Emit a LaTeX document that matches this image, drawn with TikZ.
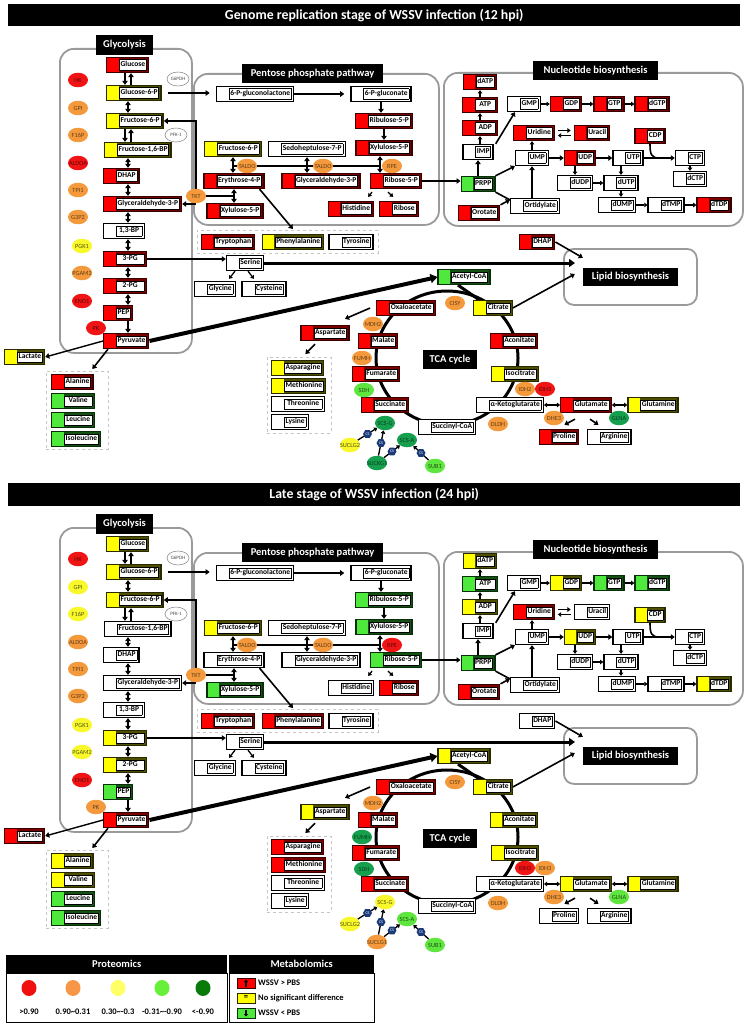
\documentclass[tikz,border=0pt]{standalone}
\usepackage{fontspec}
\setmainfont{Carlito}
\usetikzlibrary{arrows.meta,shapes.geometric,calc}
\pgfdeclarelayer{back}
\pgfdeclarelayer{bg}
\pgfsetlayers{back,bg,main}

\definecolor{mred}{HTML}{FF0000}
\definecolor{mredS}{HTML}{7A0000}
\definecolor{mredB}{HTML}{3A0000}
\definecolor{myel}{HTML}{FFFF00}
\definecolor{myelS}{HTML}{4F4F00}
\definecolor{myelB}{HTML}{2A2A00}
\definecolor{mgrn}{HTML}{4FE83C}
\definecolor{mgrnS}{HTML}{145214}
\definecolor{mgrnB}{HTML}{0A2E0A}
\definecolor{ecR}{HTML}{F01414}
\definecolor{ecO}{HTML}{F59A3C}
\definecolor{ecY}{HTML}{F8F82A}
\definecolor{ecG}{HTML}{5EE63E}
\definecolor{ecD}{HTML}{16A04E}
\definecolor{csb}{HTML}{1B3A7A}
\definecolor{regc}{HTML}{9A9A9A}
\definecolor{lgR}{HTML}{F01010}
\definecolor{lgO}{HTML}{F79646}
\definecolor{lgY}{HTML}{FFFF66}
\definecolor{lgG}{HTML}{66F03A}
\definecolor{lgD}{HTML}{0A7A0A}

\newcommand\metfont{\bfseries\fontsize{7.5}{8}\selectfont}
\newcommand\enzfont{\fontsize{6.3}{7}\selectfont}
\newcommand\secfont{\bfseries\fontsize{10.5}{12}\selectfont}
\newcommand\titlefont{\bfseries\fontsize{13.8}{16}\selectfont}
\newcommand\legfont{\bfseries\fontsize{8.5}{10}\selectfont}
\newcommand\lbl[1]{\hspace*{12.5pt}{\setlength\fboxsep{0.9pt}\setlength\fboxrule{0.6pt}\fcolorbox{black}{white}{\strut#1}}\hspace*{2pt}}

\tikzset{
  mbase/.style={rectangle, inner sep=0pt, minimum height=15pt, line width=1.3pt, font=\metfont},
  mcol/.style n args={3}{fill=#2, draw=#3, path picture={\fill[#1] (path picture bounding box.south west) rectangle ([xshift=12pt]path picture bounding box.north west);}},
  metR/.style={mbase, mcol={mred}{mredS}{mredB}},
  metY/.style={mbase, mcol={myel}{myelS}{myelB}},
  metG/.style={mbase, mcol={mgrn}{mgrnS}{mgrnB}},
  metW/.style={mbase, fill=white, draw=black},
  enzb/.style={ellipse, inner sep=0pt, minimum width=20pt, minimum height=14.5pt, font=\enzfont},
  enzR/.style={enzb, fill=ecR, text=ecR!40!black},
  enzO/.style={enzb, fill=ecO, text=ecO!40!black},
  enzY/.style={enzb, fill=ecY, text=ecY!35!black},
  enzG/.style={enzb, fill=ecG, text=ecG!35!black},
  enzD/.style={enzb, fill=ecD, text=ecD!40!black},
  enzW/.style={enzb, fill=white, draw=gray, line width=0.5pt, text=gray!60!black, minimum width=22pt, minimum height=14pt, font=\fontsize{5}{6}\selectfont},
  cshex/.style={regular polygon, regular polygon sides=6, fill=csb, inner sep=0pt, minimum size=9pt, text=white, font=\fontsize{4}{4}\selectfont},
  sec/.style={fill=black, text=white, font=\secfont, inner sep=0pt},
  region/.style={draw=regc, line width=1.8pt, rounded corners=14pt, inner sep=0pt, anchor=north west},
  dbox/.style={draw=gray!45, dashed, line width=0.8pt, inner sep=0pt, anchor=north west},
  arr/.style={line width=1.6pt, -{Triangle[length=4pt,width=5.5pt]}},
  darr/.style={line width=1.6pt, {Triangle[length=4pt,width=5.5pt]}-{Triangle[length=4pt,width=5.5pt]}},
  sarr/.style={line width=1.3pt, -{Triangle[length=3.2pt,width=4.5pt]}},
  sdarr/.style={line width=1.3pt, {Triangle[length=3.2pt,width=4.5pt]}-{Triangle[length=3.2pt,width=4.5pt]}},
  ln/.style={line width=1.6pt},
  bigarr/.style={line width=4pt, -{Triangle[length=7pt,width=9pt]}},
  medarr/.style={line width=3pt, -{Triangle[length=6pt,width=8pt]}},
  cyc/.style={line width=3pt},
}

\newcommand\statuses[1]{\foreach \mn/\ms in {#1}{\expandafter\xdef\csname S@\mn\endcsname{\ms}}}
\newcommand\estatuses[1]{\foreach \mn/\ms in {#1}{\expandafter\xdef\csname E@\mn\endcsname{\ms}}}
\newcommand\metab[4]{\edef\cur{\csname S@#1\endcsname}\expandafter\metaux\expandafter{\cur}{#1}{#2}{#3}{#4}}
\newcommand\metaux[5]{\node[met#1,#3] (#2) at (#4) {\lbl{#5}};}
\newcommand\enzy[3]{\edef\cur{\csname E@#1\endcsname}\expandafter\enzaux\expandafter{\cur}{#1}{#2}{#3}}
\newcommand\enzaux[4]{\node[enz#1] (#2) at (#3) {\makebox[0pt]{#4}};}

\newcommand\half{%
\begin{pgfonlayer}{back}
\node[region, minimum width=132pt, minimum height=304pt] (glycbox) at (59,48) {};
\node[region, minimum width=245pt, minimum height=151pt] (pppbox) at (193,73) {};
\node[region, minimum width=299pt, minimum height=153pt] (nucbox) at (443,72) {};
\node[region, rounded corners=10pt, minimum width=133pt, minimum height=56pt] (lipbox) at (563,248) {};
\node[dbox, minimum width=62pt, minimum height=78pt] (aa1) at (46,371) {};
\node[dbox, minimum width=181pt, minimum height=23pt] (arom) at (197,230) {};
\node[dbox, minimum width=64pt, minimum height=76pt] (aa2) at (267,357) {};
\draw[cyc] (447,358) ellipse [x radius=71pt, y radius=67pt];
\end{pgfonlayer}
\coordinate (axL) at (125,0);
\coordinate (ax) at (128,0);
\coordinate (axR) at (131,0);
\node[sec, minimum width=57pt, minimum height=20pt] (lglyc) at (124.5,45) {Glycolysis};
\node[sec, minimum width=141pt, minimum height=19pt] (lppp) at (312.5,73.5) {Pentose phosphate pathway};
\node[sec, minimum width=125pt, minimum height=19pt] (lnuc) at (595.5,70.5) {Nucleotide biosynthesis};
\node[sec, minimum width=95pt, minimum height=18pt] (liplab) at (630.5,277) {Lipid biosynthesis};
\node[sec, minimum width=54pt, minimum height=19pt] (ltca) at (450,359.5) {TCA cycle};
% glycolysis
\metab{glc}{anchor=west}{106,65}{Glucose}
\metab{g6p}{anchor=west}{106,93}{Glucose-6-P}
\metab{f6p}{anchor=west}{106,121}{Fructose-6-P}
\metab{f16bp}{anchor=west}{104,150}{Fructose-1,6-BP}
\metab{dhap}{anchor=west}{103,176}{DHAP}
\metab{ga3p}{anchor=west}{103,204}{Glyceraldehyde-3-P}
\metab{bpg}{anchor=west}{103,231}{\makebox[23pt]{1,3-BP}}
\metab{pg3}{anchor=west}{103,259}{\makebox[25pt]{3-PG}}
\metab{pg2}{anchor=west}{103,286}{\makebox[25pt]{2-PG}}
\metab{pep}{anchor=west}{103,313}{PEP}
\metab{pyr}{anchor=west}{103,341}{Pyruvate}
\metab{lac}{anchor=west}{4,357}{Lactate}
\metab{ala}{anchor=west}{51,382}{Alanine}
\metab{val}{anchor=west}{51,401}{\makebox[25pt]{Valine}}
\metab{leu}{anchor=west}{51,420}{\makebox[25pt]{Leucine}}
\metab{ile}{anchor=west}{51,439}{Isoleucine}
% pentose phosphate
\metab{gl}{}{255,94}{6-P-gluconolactone}
\metab{gn}{}{381,94}{6-P-gluconate}
\metab{ru5p}{}{384,121}{Ribulose-5-P}
\metab{x5pu}{}{384,148}{Xylulose-5-P}
\metab{f6pp}{}{233,149}{Fructose-6-P}
\metab{sedo}{}{307,149}{Sedoheptulose-7-P}
\metab{e4p}{}{234,181}{Erythrose-4-P}
\metab{ga3pp}{}{321,181}{Glyceraldehyde-3-P}
\metab{r5p}{}{396,181}{Ribose-5-P}
\metab{x5pl}{}{235,211}{Xylulose-5-P}
\metab{his}{}{351,209}{Histidine}
\metab{rib}{}{399,209}{Ribose}
\metab{trp}{}{228,242}{Tryptophan}
\metab{phe}{}{293,242}{Phenylalanine}
\metab{tyr}{}{351,242}{Tyrosine}
\metab{ser}{}{245,263}{Serine}
\metab{gly}{}{215,289}{Glycine}
\metab{cys}{}{264,289}{Cysteine}
% nucleotides
\metab{datp}{}{480,82}{dATP}
\metab{atp}{}{480,105}{\makebox[17pt]{ATP}}
\metab{adp}{}{480,128}{\makebox[17pt]{ADP}}
\metab{imp}{}{478,152}{IMP}
\metab{prpp}{}{478,184}{PRPP}
\metab{oro}{}{479,213}{Orotate}
\metab{ort}{}{535,206}{Ortidylate}
\metab{gmp}{}{524,104}{GMP}
\metab{gdp}{}{566,104}{GDP}
\metab{gtp}{}{609,104}{GTP}
\metab{dgtp}{}{652,104}{dGTP}
\metab{urd}{}{534,133}{Uridine}
\metab{ura}{}{592,133}{Uracil}
\metab{ump}{}{532,158}{UMP}
\metab{udp}{}{580,158}{UDP}
\metab{utp}{}{628,158}{UTP}
\metab{cdp}{}{650,136}{CDP}
\metab{ctp}{}{690,158}{CTP}
\metab{dctp}{}{690,179}{dCTP}
\metab{dudp}{}{575,183}{dUDP}
\metab{dutp}{}{621,183}{dUTP}
\metab{dump}{}{617,205}{dUMP}
\metab{dtmp}{}{666,205}{dTMP}
\metab{dtdp}{}{714,205}{dTDP}
\metab{dhapr}{}{537,242}{DHAP}
% TCA
\metab{acoa}{}{464,277}{Acetyl-CoA}
\metab{cit}{}{493,308}{Citrate}
\metab{oaa}{}{406,308}{Oxaloacetate}
\metab{asp}{}{325,333}{Aspartate}
\metab{mal}{}{378,341}{Malate}
\metab{fum}{}{376,374}{Fumarate}
\metab{suc}{}{385,405}{Succinate}
\metab{scoa}{}{447,427}{Succinyl-CoA}
\metab{akg}{}{510,405}{α-Ketoglutarate}
\metab{icit}{}{515,374}{Isocitrate}
\metab{acon}{}{514,341}{Aconitate}
\metab{glu}{}{586,405}{Glutamate}
\metab{gln}{}{653,405}{Glutamine}
\metab{pro}{}{559,437}{Proline}
\metab{arg}{}{609,437}{Arginine}
\metab{asn}{anchor=west}{271,368}{Asparagine}
\metab{met}{anchor=west}{271,386}{Methionine}
\metab{thr}{anchor=west}{271,404}{\makebox[35pt]{Threonine}}
\metab{lys}{anchor=west}{271,422}{Lysine}
% enzymes
\enzy{hk}{78,80}{HK}
\enzy{gpi}{78,108}{GPI}
\enzy{f16p}{78,135}{F16P}
\enzy{aldoa}{78,163}{ALDOA}
\enzy{tpi}{78,190}{TPI1}
\enzy{g3p2}{78,217}{G3P2}
\enzy{pgk}{82,246}{PGK1}
\enzy{pgam}{82,273}{PGAM2}
\enzy{eno}{82,301}{ENO1}
\enzy{pk}{96,328}{PK}
\enzy{g6pdh}{178,79}{G6PDH}
\enzy{pfk}{176,135}{PFK-1}
\enzy{tkt}{196,196}{TKT}
\enzy{taldoa}{247,166}{TALDO}
\enzy{taldob}{323,166}{TALDO}
\enzy{rpe}{392,166}{RPE}
\enzy{cisy}{455,303}{CISY}
\enzy{mdh}{373,324}{MDH2}
\enzy{fumh}{362,358}{FUMH}
\enzy{sdh}{364,390}{SDH}
\enzy{dldh}{498,424}{DLDH}
\enzy{idh2}{525,389}{IDH2}
\enzy{idh3}{545,389}{IDH3}
\enzy{dhe}{554,418}{DHE3}
\enzy{glna}{619,418}{GLNA}
\enzy{scsg}{385,423}{SCS-G}
\enzy{scsa}{407,440}{SCS-A}
\enzy{suclg2}{350,445}{SUCLG2}
\enzy{suclg1}{377,463}{\suclgname}
\enzy{sub1}{435,466}{SUB1}
\coordinate (lipin) at ([xshift=12pt]lipbox.west);
\coordinate (v3) at ([xshift=-4pt]x5pu.south);
\coordinate (oj) at ([yshift=-2pt]ort.north west);
\coordinate (cj) at ($(utp.east)!0.5!(ctp.west)$);
\begin{pgfonlayer}{bg}
% glycolysis
\draw[arr] (glc.south -| axL) -- (g6p.north -| axL);
\draw[arr] (g6p.north -| axR) -- (glc.south -| axR);
\draw[darr] (g6p.south -| ax) -- (f6p.north -| ax);
\draw[arr] (f6p.south -| axL) -- (f16bp.north -| axL);
\draw[arr] (f16bp.north -| axR) -- (f6p.south -| axR);
\draw[darr] (f16bp.south -| ax) -- (dhap.north -| ax);
\draw[darr] (dhap.south -| ax) -- (ga3p.north -| ax);
\draw[darr] (ga3p.south -| ax) -- (bpg.north -| ax);
\draw[darr] (bpg.south -| ax) -- (pg3.north -| ax);
\draw[darr] (pg3.south -| ax) -- (pg2.north -| ax);
\draw[darr] (pg2.south -| ax) -- (pep.north -| ax);
\draw[arr] (pep.south -| ax) -- (pyr.north -| ax);
\draw[arr, line width=1.4pt] (pyr.west) -- (lac.east);
\draw[arr] ([xshift=5pt]pyr.south west) -- ([xshift=15pt,yshift=2pt]aa1.north);
\draw[bigarr] (pyr.east) -- (acoa.west);
\draw[arr] (pg3.east) -- (pg3.east -| ser.west);
\draw[medarr] (ser.east) -- (ser.east -| lipin);
\draw[arr, shorten <=6pt, shorten >=6pt] (g6p.east) -- (g6p.east -| gl.west);
% TKT
\draw[arr] (tkt.north) |- (f6p.east);
\draw[arr] (tkt.south |- ga3p.east) -- (ga3p.east);
\draw[ln] (tkt.east) -- (tkt.east -| e4p.south);
\draw[darr] (e4p.south) -- (e4p.south |- x5pl.north);
% pentose phosphate
\draw[arr, shorten >=6pt] (gl.east) -- (gl.east -| gn.west);
\draw[arr] (gn.south) -- (gn.south |- ru5p.north);
\draw[arr] (ru5p.south) -- (ru5p.south |- x5pu.north);
\draw[ln] (f6pp.south |- taldoa.center) -- (v3 |- taldoa.center);
\draw[darr] (f6pp.south) -- (f6pp.south |- e4p.north);
\draw[darr] (sedo.south) -- (sedo.south |- ga3pp.north);
\draw[darr] (v3) -- (v3 |- r5p.north);
\draw[sarr] ([xshift=-24pt,yshift=-3pt]r5p.south) -- ([xshift=-6pt,yshift=4pt]his.north east);
\draw[sarr] ([xshift=-8pt,yshift=-3pt]r5p.south) -- ([xshift=14pt,yshift=4pt]rib.north west);
\draw[arr] ([xshift=-5pt]e4p.south east) -- ([xshift=5pt,yshift=1pt]arom.north);
\draw[arr] (r5p.east) -- (r5p.east -| prpp.west);
\draw[sarr] ([xshift=-10pt]ser.south) -- ([xshift=14pt,yshift=2pt]gly.north);
\draw[sarr] ([xshift=3pt]ser.south) -- ([xshift=-10pt,yshift=2pt]cys.north);
% nucleotides
\draw[sarr] (adp.south |- imp.north) -- (adp.south);
\draw[sarr] (adp.north) -- (atp.south);
\draw[sarr] (atp.north) -- (datp.south);
\draw[arr] (prpp.north) -- (prpp.north |- imp.south);
\draw[arr] ([xshift=2pt]imp.north east) -- ([xshift=8pt]gmp.south west);
\draw[sarr] (gmp.east) -- (gdp.west);
\draw[sarr] (gdp.east) -- (gtp.west);
\draw[sarr] (gtp.east) -- (dgtp.west);
\draw[sarr, shorten <=3pt, shorten >=3pt] ([yshift=2.5pt]urd.east) -- ([yshift=2.5pt]ura.west);
\draw[sarr, shorten <=3pt, shorten >=3pt] ([yshift=-2.5pt]ura.west) -- ([yshift=-2.5pt]urd.east);
\draw[sarr] (ump.north) -- (ump.north |- urd.south);
\draw[arr] (ump.east) -- (udp.west);
\draw[arr] (udp.east) -- (utp.west);
\draw[arr] (utp.east) -- (ctp.west);
\draw[ln] (cdp.south) .. controls +(0,10) and +(-8,0) .. (cj);
\draw[sarr] (ctp.south) -- (ctp.south |- dctp.north);
\draw[sarr] (dudp.north |- udp.south) -- (dudp.north);
\draw[sarr] (dutp.north |- utp.south) -- (dutp.north);
\draw[sarr] (dudp.east) -- (dutp.west);
\draw[sarr] (dutp.south) -- (dutp.south |- dump.north);
\draw[sarr] (dump.east) -- (dtmp.west);
\draw[sarr] (dtmp.east) -- (dtdp.west);
\draw[arr] (prpp.north east) -- (ump.south west);
\draw[ln] (prpp.south east) -- (oj);
\draw[arr] (oro.north east) -- (oj);
\draw[arr] (ump.south |- ort.north) -- (ump.south);
\draw[arr] (dhapr.east) -- ([yshift=10pt]liplab.north west);
\draw[arr] (cit.east) -- ([xshift=-8pt,yshift=3pt]liplab.west);
% TCA
\draw[cyc] ([xshift=-6pt]acoa.south) -- ([xshift=6pt]cit.north west);
\draw[arr] ([xshift=-6pt]oaa.west) -- ([xshift=20pt,yshift=6pt]asp.north);
\draw[arr] ([xshift=-10pt,yshift=-3pt]asp.south) -- ([xshift=6pt,yshift=3pt]aa2.north);
\draw[sdarr] (akg.east) -- (glu.west);
\draw[sdarr] (glu.east) -- (gln.west);
\draw[arr] ([xshift=-11pt,yshift=-6pt]glu.south) -- ([xshift=-15pt,yshift=4pt]pro.north east);
\draw[arr] ([xshift=4pt,yshift=-6pt]glu.south) -- ([xshift=12pt,yshift=4pt]arg.north west);
\draw[sarr] (suclg2) -- (scsg) node[cshex, midway] (cs1) {CS};
\draw[sarr] (suclg1) -- (scsg) node[cshex, midway] (cs2) {CS};
\draw[sarr] (suclg1) -- (scsa) node[cshex, midway] (cs3) {CS};
\draw[sarr] (sub1) -- (scsa) node[cshex, midway] (cs4) {CS};
\end{pgfonlayer}
}

\begin{document}
\begin{tikzpicture}[x=1pt,y=-1pt]
\useasboundingbox (0,0) rectangle (748,1027);
\begin{pgfonlayer}{back}
\fill[white] (0,0) rectangle (748,1027);
\end{pgfonlayer}
\node[fill=black, text=white, font=\titlefont, minimum width=732pt, minimum height=22pt, inner sep=0pt, anchor=north west] (t1) at (8,4) {Genome replication stage of WSSV infection (12 hpi)};
\node[fill=black, text=white, font=\titlefont, minimum width=732pt, minimum height=23pt, inner sep=0pt, anchor=north west] (t2) at (8,483) {Late stage of WSSV infection (24 hpi)};

\statuses{glc/R,g6p/Y,f6p/Y,f16bp/Y,dhap/R,ga3p/R,bpg/W,pg3/R,pg2/R,pep/R,pyr/R,lac/Y,ala/R,val/G,leu/G,ile/G,%
gl/W,gn/W,ru5p/R,x5pu/R,f6pp/Y,sedo/W,e4p/R,ga3pp/R,r5p/R,x5pl/R,his/R,rib/R,trp/R,phe/Y,tyr/W,ser/W,gly/W,cys/W,%
datp/R,atp/R,adp/R,imp/W,gmp/W,gdp/R,gtp/R,dgtp/R,urd/R,ura/R,ump/W,udp/R,utp/W,cdp/R,ctp/W,dctp/W,dudp/W,dutp/W,dump/W,dtmp/W,dtdp/R,prpp/G,oro/R,ort/W,dhapr/R,%
acoa/G,cit/Y,oaa/R,asp/R,mal/R,fum/R,suc/R,scoa/W,akg/W,icit/Y,acon/R,glu/R,gln/Y,pro/R,arg/W,asn/Y,met/Y,thr/W,lys/W}%
\estatuses{hk/R,gpi/O,f16p/O,aldoa/R,tpi/O,g3p2/O,pgk/Y,pgam/O,eno/R,pk/R,g6pdh/W,pfk/W,tkt/O,taldoa/O,taldob/O,rpe/O,%
cisy/O,mdh/O,fumh/O,sdh/G,dldh/O,idh2/O,idh3/R,dhe/O,glna/D,scsg/D,scsa/D,suclg2/Y,suclg1/D,sub1/G}%
\def\suclgname{SUCKG1}%
\begin{scope}[name prefix=T-]
\half
\end{scope}

\statuses{glc/Y,g6p/Y,f6p/Y,f16bp/W,dhap/W,ga3p/W,bpg/W,pg3/Y,pg2/Y,pep/G,pyr/R,lac/R,ala/Y,val/Y,leu/G,ile/G,%
gl/W,gn/W,ru5p/G,x5pu/G,f6pp/Y,sedo/W,e4p/W,ga3pp/W,r5p/G,x5pl/G,his/W,rib/R,trp/R,phe/R,tyr/W,ser/W,gly/W,cys/W,%
datp/Y,atp/G,adp/Y,imp/W,gmp/W,gdp/Y,gtp/G,dgtp/G,urd/R,ura/W,ump/W,udp/Y,utp/W,cdp/Y,ctp/W,dctp/W,dudp/W,dutp/W,dump/W,dtmp/W,dtdp/Y,prpp/G,oro/R,ort/W,dhapr/W,%
acoa/Y,cit/Y,oaa/R,asp/Y,mal/R,fum/R,suc/R,scoa/W,akg/W,icit/Y,acon/Y,glu/Y,gln/Y,pro/W,arg/W,asn/R,met/R,thr/W,lys/W}%
\estatuses{hk/R,gpi/Y,f16p/Y,aldoa/O,tpi/O,g3p2/O,pgk/Y,pgam/Y,eno/R,pk/O,g6pdh/W,pfk/W,tkt/O,taldoa/O,taldob/O,rpe/R,%
cisy/O,mdh/O,fumh/D,sdh/D,dldh/O,idh2/R,idh3/O,dhe/O,glna/G,scsg/Y,scsa/G,suclg2/Y,suclg1/O,sub1/G}%
\def\suclgname{SUCLG1}%
\begin{scope}[name prefix=B-, shift={(0,479)}]
\half
\end{scope}

% legend
\node[fill=black, text=white, font=\secfont, minimum width=221pt, minimum height=18pt, inner sep=0pt, anchor=north west] (lph) at (6,955) {Proteomics};
\node[draw=black, line width=1.2pt, minimum width=221pt, minimum height=49pt, inner sep=0pt, anchor=north west] (lpb) at (6,973) {};
\node[ellipse, fill=lgR, minimum width=15pt, minimum height=16pt, inner sep=0pt] (lc1) at (29,988) {};
\node[ellipse, fill=lgO, minimum width=15pt, minimum height=16pt, inner sep=0pt] (lc2) at (73,988) {};
\node[ellipse, fill=lgY, minimum width=15pt, minimum height=16pt, inner sep=0pt] (lc3) at (118,988) {};
\node[ellipse, fill=lgG, minimum width=15pt, minimum height=16pt, inner sep=0pt] (lc4) at (162,988) {};
\node[ellipse, fill=lgD, minimum width=15pt, minimum height=16pt, inner sep=0pt] (lc5) at (203,988) {};
\node[font=\legfont, inner sep=0pt] (lt1) at (29,1012) {>0.90};
\node[font=\legfont, inner sep=0pt] (lt2) at (73,1012) {0.90\textasciitilde 0.31};
\node[font=\legfont, inner sep=0pt] (lt3) at (118,1012) {0.30\textasciitilde -0.3};
\node[font=\legfont, inner sep=0pt] (lt4) at (162,1012) {-0.31\textasciitilde -0.90};
\node[font=\legfont, inner sep=0pt] (lt5) at (203,1012) {<-0.90};
\node[fill=black, text=white, font=\secfont, minimum width=145pt, minimum height=18pt, inner sep=0pt, anchor=north west] (lmh) at (229,955) {Metabolomics};
\node[draw=black, line width=1.2pt, minimum width=145pt, minimum height=49pt, inner sep=0pt, anchor=north west] (lmb) at (229,973) {};
\node[draw=mredB, fill=mred, line width=1pt, minimum width=18pt, minimum height=10pt, inner sep=0pt] (li1) at (246,983) {};
\draw[-{Triangle[length=2.5pt,width=4pt]}, line width=1.3pt] ([yshift=-3.5pt]li1.center) -- ([yshift=3.5pt]li1.center);
\node[draw=myelB, fill=myel, line width=1pt, minimum width=18pt, minimum height=10pt, inner sep=0pt, font=\legfont] (li2) at (246,998) {=};
\node[draw=mgrnB, fill=mgrn, line width=1pt, minimum width=18pt, minimum height=10pt, inner sep=0pt] (li3) at (246,1013) {};
\draw[-{Triangle[length=2.5pt,width=4pt]}, line width=1.3pt] ([yshift=3.5pt]li3.center) -- ([yshift=-3.5pt]li3.center);
\node[anchor=west, font=\legfont, inner sep=0pt] (lx1) at (258,983) {WSSV > PBS};
\node[anchor=west, font=\legfont, inner sep=0pt] (lx2) at (258,998) {No significant difference};
\node[anchor=west, font=\legfont, inner sep=0pt] (lx3) at (258,1013) {WSSV < PBS};
\end{tikzpicture}
\end{document}
